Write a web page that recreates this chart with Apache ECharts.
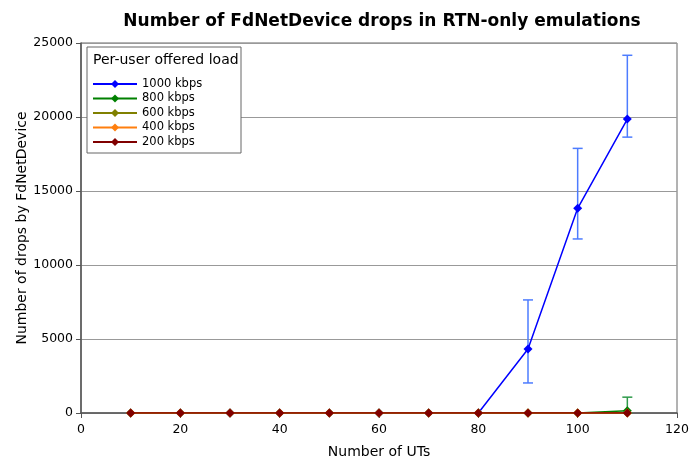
<!DOCTYPE html>
<html>
<head>
<meta charset="utf-8">
<script src="https://cdn.jsdelivr.net/npm/echarts@6/dist/echarts.min.js"></script>
<style>
  html, body { margin: 0; padding: 0; background: #fff; }
  #chart { width: 699px; height: 457px; }
</style>
</head>
<body>
<div id="chart"></div>
<script>
// Number of UTs on the x axis
const uts = [10, 20, 30, 40, 50, 60, 70, 80, 90, 100, 110];

// Mean drop counts per offered load
const drops1000 = [0, 0, 0, 0, 0, 0, 0, 0, 4320, 13830, 19860];
const drops800  = [0, 0, 0, 0, 0, 0, 0, 0, 0, 0, 150];
const drops600  = [0, 0, 0, 0, 0, 0, 0, 0, 0, 0, 0];
const drops400  = [0, 0, 0, 0, 0, 0, 0, 0, 0, 0, 0];
const drops200  = [0, 0, 0, 0, 0, 0, 0, 0, 0, 0, 0];

// Error bar ranges [x, low, high]
const err1000 = [[90, 2030, 7640], [100, 11760, 17880], [110, 18640, 24170]];
const err800  = [[110, 0, 1070]];

const seriesNames = ['1000 kbps', '800 kbps', '600 kbps', '400 kbps', '200 kbps'];
const seriesColors = ['#0000ff', '#008000', '#808000', '#ff7f0e', '#800000'];
const seriesValues = [drops1000, drops800, drops600, drops400, drops200];

const font = 'DejaVu Sans';

function errorBars(color) {
  return function (params, api) {
    const x = api.value(0);
    const lo = api.coord([x, api.value(1)]);
    const hi = api.coord([x, api.value(2)]);
    const w = 5;
    const style = { stroke: color, lineWidth: 1.5, fill: null };
    return {
      type: 'group',
      children: [
        { type: 'line', shape: { x1: lo[0], y1: lo[1], x2: hi[0], y2: hi[1] }, style },
        { type: 'line', shape: { x1: lo[0] - w, y1: lo[1], x2: lo[0] + w, y2: lo[1] }, style },
        { type: 'line', shape: { x1: hi[0] - w, y1: hi[1], x2: hi[0] + w, y2: hi[1] }, style }
      ]
    };
  };
}

const chart = echarts.init(document.getElementById('chart'));

const lineSeries = seriesNames.map((name, i) => ({
  name,
  type: 'line',
  data: uts.map((u, j) => [u, seriesValues[i][j]]),
  symbol: 'diamond',
  symbolSize: 9,
  showAllSymbol: true,
  lineStyle: { color: seriesColors[i], width: 1.5 },
  itemStyle: { color: seriesColors[i] },
  z: 3 + i,
  animation: false
}));

chart.setOption({
  animation: false,
  backgroundColor: '#fff',
  title: {
    text: 'Number of FdNetDevice drops in RTN-only emulations',
    left: 377, top: 8, textAlign: 'center',
    textStyle: { fontFamily: font, fontSize: 17, fontWeight: 'bold', color: '#000' }
  },
  grid: {
    left: 81, right: 22, top: 43, bottom: 44,
    outerBoundsMode: 'none', containLabel: false,
    show: true, borderColor: '#666', borderWidth: 1
  },
  legend: {
    left: 87, top: 72,
    orient: 'vertical',
    itemGap: 0.5,
    itemWidth: 44, itemHeight: 10,
    data: seriesNames,
    textStyle: { fontFamily: font, fontSize: 11.5, lineHeight: 14, color: '#000' }
  },
  graphic: [
    { type: 'rect', shape: { x: 87, y: 47, width: 154, height: 106 },
      style: { fill: '#fff', stroke: '#666', lineWidth: 1 }, z: 1 },
    { type: 'text', left: 93, top: 53, z: 2,
      style: { text: 'Per-user offered load', font: '14px "DejaVu Sans"', fill: '#000' } }
  ],
  xAxis: {
    type: 'value', min: 0, max: 120, interval: 20,
    name: 'Number of UTs', nameLocation: 'middle', nameGap: 32, nameMoveOverlap: false,
    nameTextStyle: { fontFamily: font, fontSize: 14, color: '#000' },
    axisLine: { lineStyle: { color: '#555', width: 1.5 } },
    axisTick: { show: true, length: 5, lineStyle: { color: '#555' } },
    axisLabel: { fontFamily: font, fontSize: 12.5, color: '#000', margin: 10 },
    splitLine: { show: false }
  },
  yAxis: {
    type: 'value', min: 0, max: 25000, interval: 5000,
    name: 'Number of drops by FdNetDevice', nameLocation: 'middle', nameGap: 52, nameMoveOverlap: false,
    nameTextStyle: { fontFamily: font, fontSize: 14, color: '#000' },
    axisLine: { show: true, lineStyle: { color: '#555', width: 1.5 } },
    axisTick: { show: true, length: 5, lineStyle: { color: '#555' } },
    axisLabel: { fontFamily: font, fontSize: 12.5, color: '#000', margin: 8, formatter: v => String(v) },
    splitLine: { show: true, lineStyle: { color: '#999', width: 1 } }
  },
  series: [
    { type: 'custom', name: 'err1000', renderItem: errorBars('#4d7cff'), data: err1000, z: 2, silent: true },
    { type: 'custom', name: 'err800', renderItem: errorBars('#2e9a4a'), data: err800, z: 2, silent: true },
    ...lineSeries
  ]
});
</script>
</body>
</html>
